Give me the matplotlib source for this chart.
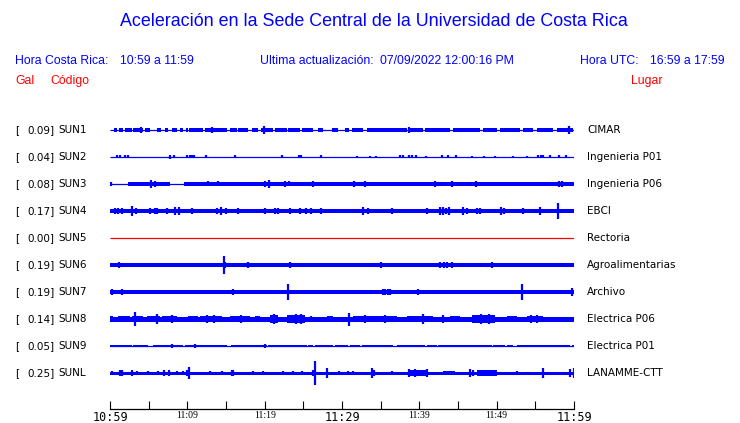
import matplotlib
matplotlib.use("Agg")
import matplotlib.pyplot as plt
from matplotlib.transforms import blended_transform_factory

# station table
codes = ["SUN1", "SUN2", "SUN3", "SUN4", "SUN5", "SUN6", "SUN7", "SUN8", "SUN9", "SUNL"]
pga = [0.09, 0.04, 0.08, 0.17, 0.00, 0.19, 0.19, 0.14, 0.05, 0.25]
places = ["CIMAR", "Ingenieria P01", "Ingenieria P06", "EBCI", "Rectoria",
          "Agroalimentarias", "Archivo", "Electrica P06", "Electrica P01", "LANAMME-CTT"]

# x axis: minutes after 10:59
tick_min = list(range(0, 61, 5))
tick_lbl = ["10:59", "", "11:09", "", "11:19", "", "11:29", "", "11:39", "", "11:49", "", "11:59"]

# trace envelopes (minute, amplitude in pixels)
# bursts: (start, end, half height); spikes: (minute, half height)
bursts = [
    [(0.52, 0.95, 1.6), (1.21, 1.72, 1.6), (1.94, 2.8, 1.6), (3.02, 4.22, 1.6), (4.53, 5.17, 1.6),
     (6.12, 6.55, 1.6), (7.11, 7.54, 1.6), (7.97, 8.62, 1.6), (9.05, 9.48, 1.6), (9.83, 10.13, 1.6),
     (10.26, 12.07, 1.6), (12.28, 15.09, 1.6), (15.52, 16.38, 1.6), (16.59, 17.89, 1.6),
     (18.32, 19.18, 1.6), (19.48, 21.12, 1.6), (21.33, 22.84, 1.6), (23.06, 24.57, 1.6),
     (24.78, 26.29, 1.6), (26.94, 27.58, 1.6), (28.66, 29.52, 1.6), (30.39, 30.95, 1.6),
     (31.25, 32.76, 1.6), (33.19, 38.36, 1.6), (38.58, 40.52, 1.6), (40.73, 43.96, 1.6),
     (44.39, 47.84, 1.6), (48.27, 49.99, 1.6), (50.43, 53.01, 1.6), (53.45, 54.74, 1.6),
     (55.17, 57.32, 1.6), (57.76, 59.91, 1.6)],
    [],
    [(2.37, 7.76, 1.8), (9.6, 60.0, 1.8)],
    [(0.0, 60.0, 2.0)],
    [],
    [(0.0, 60.0, 1.7), (0.9, 1.5, 2.3)],
    [(0.0, 60.0, 1.7)],
    [(0.0, 60.0, 2.5), (0.0, 0.43, 2.7), (1.08, 2.59, 3.0), (2.8, 4.3, 3.3), (4.74, 6.47, 3.3),
     (6.68, 8.62, 3.3), (10.13, 11.42, 3.3), (11.64, 14.44, 3.3), (15.52, 18.1, 3.3),
     (18.75, 19.4, 3.3), (20.69, 21.76, 4.0), (22.84, 25.21, 4.0), (28.02, 28.88, 2.7),
     (31.46, 37.07, 2.7), (38.36, 41.81, 2.7), (43.96, 45.26, 2.7), (46.76, 49.78, 4.0),
     (51.29, 52.58, 2.7), (53.88, 56.03, 3.3), (57.76, 59.91, 2.3)],
    [(0.0, 2.8, 1.3), (3.0, 4.96, 1.3), (5.6, 9.48, 1.3), (9.7, 15.09, 1.3), (15.6, 20.26, 1.3),
     (20.47, 25.43, 1.3), (25.64, 26.29, 1.3), (26.5, 28.88, 1.3), (29.09, 30.82, 1.3),
     (31.03, 32.33, 1.3), (32.54, 36.64, 1.3), (37.07, 40.73, 1.3), (40.95, 42.24, 1.3),
     (42.45, 49.35, 1.3), (49.57, 51.07, 1.3), (51.29, 52.15, 1.3), (52.58, 59.48, 1.3),
     (59.7, 60.0, 1.3)],
    [(0.0, 60.0, 1.5), (38.58, 41.16, 2.5), (43.1, 44.6, 2.3), (47.4, 50.0, 2.5)],
]

spikes = [
    [(4.0, 2.7), (13.2, 2.7), (19.95, 4.3), (38.6, 2.7), (59.4, 4.3)],
    [(0.86, 1.5), (1.29, 1.5), (1.94, 1.5), (2.37, 1.5), (7.76, 2.2), (8.27, 1.5), (10.0, 1.5),
     (10.3, 1.5), (10.6, 1.5), (10.9, 1.5), (12.41, 1.5), (16.16, 1.5), (22.2, 1.5), (24.48, 1.5),
     (24.7, 1.5), (27.24, 1.5), (31.9, 1.3), (33.6, 1.3), (34.4, 1.3), (37.5, 1.5), (37.9, 1.5),
     (38.6, 1.5), (39.0, 1.5), (39.6, 1.5), (40.9, 1.3), (42.9, 1.5), (43.7, 1.5), (44.8, 1.5),
     (46.8, 1.3), (48.3, 1.3), (49.8, 1.3), (52.1, 1.3), (53.9, 1.3), (55.4, 1.5), (55.7, 1.5),
     (56.0, 1.5), (56.9, 1.5), (58.0, 1.5), (59.0, 1.5)],
    [(0.1, 1.7), (5.26, 4.3), (5.8, 2.7), (10.0, 2.3), (12.7, 2.5), (14.0, 2.5), (15.4, 2.3),
     (17.5, 2.3), (20.0, 2.7), (20.5, 4.3), (22.6, 3.3), (23.2, 2.5), (26.2, 2.7), (28.7, 2.3),
     (30.4, 2.3), (31.5, 3.0), (33.0, 3.0), (33.8, 2.3), (37.5, 2.3), (40.9, 2.3), (42.0, 3.0),
     (43.1, 2.3), (44.2, 3.0), (45.3, 2.3), (47.3, 3.0), (47.6, 2.3), (50.6, 2.3), (51.3, 2.3),
     (52.4, 2.3), (55.8, 2.3), (56.9, 2.3), (58.0, 3.0), (58.5, 3.0)],
    [(0.65, 2.7), (1.08, 3.3), (1.51, 2.7), (2.89, 4.7), (3.32, 3.3), (3.88, 2.3), (4.53, 2.3),
     (5.17, 2.7), (5.82, 3.3), (6.03, 2.7), (7.33, 3.3), (8.4, 4.0), (8.96, 4.0), (10.56, 3.3),
     (11.64, 2.3), (12.5, 2.3), (13.79, 2.7), (14.31, 4.0), (15.0, 2.7), (15.73, 2.3), (16.59, 3.3),
     (17.46, 2.3), (18.1, 2.3), (20.04, 2.7), (21.33, 3.3), (21.76, 2.7), (22.41, 2.3), (23.27, 3.3),
     (23.92, 2.3), (24.57, 2.7), (25.34, 2.7), (25.95, 2.7), (26.72, 2.3), (27.28, 3.3), (28.45, 2.3),
     (29.09, 2.3), (29.74, 2.3), (29.96, 2.3), (31.46, 2.3), (32.76, 4.0), (33.4, 2.7), (34.48, 2.3),
     (36.42, 2.7), (37.93, 2.3), (39.44, 2.3), (40.95, 2.7), (42.02, 2.3), (42.67, 4.0), (43.1, 4.0),
     (43.5, 3.3), (43.8, 4.0), (45.7, 4.0), (46.1, 3.3), (47.41, 2.7), (47.84, 2.7), (50.6, 4.0),
     (51.0, 3.3), (53.45, 2.7), (55.6, 4.0), (57.97, 8.0), (59.48, 2.3)],
    [],
    [(1.16, 2.7), (2.37, 2.3), (3.36, 2.3), (4.65, 2.0), (6.25, 2.0), (8.96, 2.3), (10.26, 2.0),
     (10.56, 2.3), (10.9, 2.0), (12.15, 2.3), (14.74, 9.3), (14.9, 3.3), (16.03, 2.3), (17.89, 3.3),
     (18.96, 2.0), (19.48, 2.0), (20.47, 2.0), (23.27, 2.7), (25.08, 2.0), (27.07, 2.0), (27.93, 2.3),
     (28.45, 2.0), (29.18, 2.0), (29.74, 2.0), (31.68, 2.3), (32.41, 2.0), (35.0, 2.7), (37.28, 2.0),
     (37.93, 2.0), (38.58, 2.0), (40.0, 2.3), (40.52, 2.3), (42.67, 3.3), (43.19, 3.3), (43.53, 2.7),
     (44.18, 2.7), (47.2, 2.0), (49.35, 3.3), (53.45, 2.0), (54.09, 2.0), (55.6, 2.3), (56.68, 2.0),
     (57.32, 2.0), (59.48, 2.0)],
    [(0.22, 3.3), (1.51, 3.3), (2.59, 2.0), (4.1, 2.0), (6.12, 2.0), (7.54, 2.3), (8.83, 2.0),
     (10.34, 2.0), (12.28, 2.0), (13.79, 2.0), (14.74, 2.0), (15.86, 2.7), (17.02, 2.0), (18.32, 2.3),
     (19.31, 2.0), (20.17, 2.3), (21.64, 2.0), (23.06, 8.0), (23.71, 2.3), (25.64, 2.3), (26.42, 2.3),
     (28.45, 2.0), (29.39, 2.3), (29.95, 2.0), (31.68, 2.0), (32.54, 2.3), (35.34, 3.3), (35.6, 3.0),
     (36.0, 3.3), (36.2, 2.7), (37.07, 2.0), (39.0, 2.0), (39.87, 2.7), (41.59, 2.0), (42.67, 2.0),
     (43.53, 2.0), (44.18, 2.0), (46.12, 2.0), (47.41, 2.0), (49.14, 2.0), (50.0, 2.0), (50.43, 2.0),
     (52.15, 2.3), (53.23, 8.0), (54.74, 2.0), (59.7, 4.0)],
    [(3.23, 6.7), (6.03, 4.7), (8.0, 4.3), (12.5, 4.0), (13.5, 4.3), (17.0, 4.0), (21.2, 4.7),
     (24.0, 4.7), (24.7, 5.0), (26.0, 3.3), (30.9, 6.5), (33.0, 3.7), (35.5, 3.7), (40.43, 4.7),
     (43.0, 3.7), (48.0, 4.7), (49.0, 4.7), (54.5, 4.0), (55.2, 3.7)],
    [(8.0, 2.0), (11.0, 2.0), (20.0, 1.8)],
    [(0.22, 2.3), (1.29, 2.7), (1.51, 2.7), (2.8, 3.3), (3.45, 2.3), (4.96, 2.3), (6.25, 2.0),
     (6.98, 2.7), (7.63, 2.7), (8.62, 2.0), (9.48, 2.3), (10.0, 2.7), (10.26, 6.0), (12.93, 2.0),
     (14.44, 2.0), (15.73, 3.3), (15.95, 2.7), (18.53, 2.0), (19.83, 2.0), (22.41, 2.0), (23.62, 2.0),
     (24.78, 2.0), (26.29, 2.7), (26.51, 12.0), (28.02, 4.7), (29.65, 2.3), (30.8, 2.0), (31.46, 2.0),
     (33.83, 4.7), (34.1, 3.3), (36.42, 2.3), (38.6, 4.0), (39.0, 3.0), (39.4, 4.0), (40.2, 3.0),
     (41.0, 4.0), (46.55, 4.0), (46.98, 3.3), (48.5, 2.7), (49.8, 2.7), (52.58, 2.0), (56.03, 4.7),
     (59.48, 4.0), (60.0, 5.3)],
]

BLUE = "#0000ff"
RED = "#ff0000"
W, H = 740, 423
px = 1 / 27.0  # one pixel in row units (rows are 27 px apart)

fig = plt.figure(figsize=(W / 100, H / 100), dpi=100)
fig.patch.set_facecolor("white")


def fx(x):
    return x / W


def fy(y):
    return 1 - y / H


ax = fig.add_axes([fx(110), fy(409), fx(574) - fx(110), fy(116) - fy(409)])
ax.set_xlim(0, 60)
ax.set_ylim((409 - 130) * px, (116 - 130) * px)

for i, code in enumerate(codes):
    col = RED if pga[i] == 0 else BLUE
    ax.hlines(i, 0, 60, color=col, lw=0.9)
    for s, e, a in bursts[i]:
        ax.fill_between([s, e], i - a * px, i + a * px, color=col, lw=0)
    if spikes[i]:
        t = [p[0] for p in spikes[i]]
        a = [p[1] * px for p in spikes[i]]
        ax.vlines(t, [i - v for v in a], [i + v for v in a], color=col, lw=1.6)

for side in ["left", "top", "right"]:
    ax.spines[side].set_visible(False)
ax.spines["bottom"].set_linewidth(0.9)
ax.set_yticks([])
ax.set_xticks(tick_min)
ax.set_xticklabels(tick_lbl)
ax.tick_params(axis="x", direction="in", length=5.8, width=0.8, pad=1.5)
for lab in ax.get_xticklabels():
    if lab.get_text() in ("10:59", "11:29", "11:59"):
        lab.set_fontfamily("DejaVu Sans Mono")
        lab.set_fontsize(8.5)
    else:
        lab.set_fontfamily("Liberation Serif")
        lab.set_fontsize(7)

# row labels
tr = blended_transform_factory(fig.transFigure, ax.transData)
for i, code in enumerate(codes):
    ax.text(fx(15), i, "[", transform=tr, va="center", ha="left", fontsize=7.5, color="black")
    ax.text(fx(27), i, f"{pga[i]:.2f}]", transform=tr, va="center", ha="left", fontsize=7.5, color="black")
    ax.text(fx(58.5), i, code, transform=tr, va="center", ha="left", fontsize=7.5, color="black")
    ax.text(fx(587), i, places[i], transform=tr, va="center", ha="left", fontsize=7.5, color="black")

# header
fig.text(fx(374), fy(22), "Aceleración en la Sede Central de la Universidad de Costa Rica",
         ha="center", va="center", fontsize=12.9, color=BLUE, family="Liberation Sans")
hdr = dict(va="center", ha="left", fontsize=8.8, family="Liberation Sans")
fig.text(fx(15), fy(61), "Hora Costa Rica:", color=BLUE, **hdr)
fig.text(fx(120), fy(61), "10:59 a 11:59", color=BLUE, **hdr)
fig.text(fx(260), fy(61), "Ultima actualización:", color=BLUE, **hdr)
fig.text(fx(380.5), fy(61), "07/09/2022 12:00:16 PM", color=BLUE, **hdr)
fig.text(fx(580), fy(61), "Hora UTC:", color=BLUE, **hdr)
fig.text(fx(650.5), fy(61), "16:59 a 17:59", color=BLUE, **hdr)
fig.text(fx(15), fy(81), "Gal", color=RED, **hdr)
fig.text(fx(50), fy(81), "Código", color=RED, **hdr)
fig.text(fx(630.5), fy(81), "Lugar", color=RED, **hdr)

fig.savefig("out.png", dpi=100)
